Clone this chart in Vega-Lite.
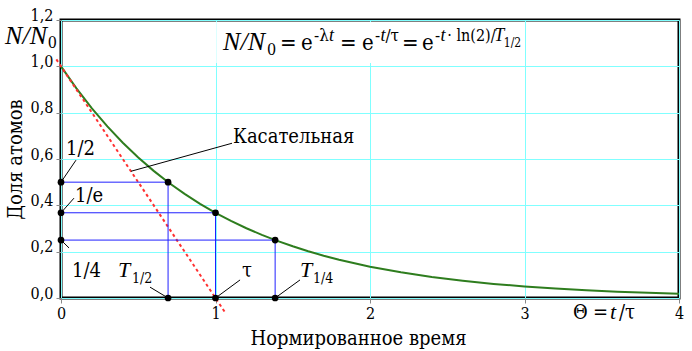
{
  "$schema": "https://vega.github.io/schema/vega-lite/v6.json",
  "width": 618,
  "height": 278,
  "autosize": {"type": "none"},
  "padding": {"left": 61, "top": 20, "right": 13, "bottom": 53},
  "background": "white",
  "config": {
    "view": {"stroke": "black", "strokeWidth": 3},
    "font": "DejaVu Serif Condensed"
  },
  "datasets": {
    "curve": [
      {"x": 0, "y": 1}, {"x": 0.1, "y": 0.9048}, {"x": 0.2, "y": 0.8187}, {"x": 0.3, "y": 0.7408},
      {"x": 0.4, "y": 0.6703}, {"x": 0.5, "y": 0.6065}, {"x": 0.6, "y": 0.5488}, {"x": 0.7, "y": 0.4966},
      {"x": 0.8, "y": 0.4493}, {"x": 0.9, "y": 0.4066}, {"x": 1.0, "y": 0.3679}, {"x": 1.1, "y": 0.3329},
      {"x": 1.2, "y": 0.3012}, {"x": 1.3, "y": 0.2725}, {"x": 1.4, "y": 0.2466}, {"x": 1.5, "y": 0.2231},
      {"x": 1.6, "y": 0.2019}, {"x": 1.7, "y": 0.1827}, {"x": 1.8, "y": 0.1653}, {"x": 1.9, "y": 0.1496},
      {"x": 2.0, "y": 0.1353}, {"x": 2.2, "y": 0.1108}, {"x": 2.4, "y": 0.0907}, {"x": 2.6, "y": 0.0743},
      {"x": 2.8, "y": 0.0608}, {"x": 3.0, "y": 0.0498}, {"x": 3.2, "y": 0.0408}, {"x": 3.4, "y": 0.0334},
      {"x": 3.6, "y": 0.0273}, {"x": 3.8, "y": 0.0224}, {"x": 4.0, "y": 0.0183}
    ],
    "tangent": [{"x": -0.03, "y": 1.03}, {"x": 1.065, "y": -0.065}],
    "guides": [
      {"x": 0, "y": 0.5, "x2": 0.693, "y2": 0.5},
      {"x": 0, "y": 0.3679, "x2": 1, "y2": 0.3679},
      {"x": 0, "y": 0.25, "x2": 1.386, "y2": 0.25},
      {"x": 0.693, "y": 0, "x2": 0.693, "y2": 0.5},
      {"x": 1, "y": 0, "x2": 1, "y2": 0.3679},
      {"x": 1.386, "y": 0, "x2": 1.386, "y2": 0.25}
    ],
    "leaders": [
      {"x": 0, "y": 0.5, "x2": 0.097, "y2": 0.595},
      {"x": 0, "y": 0.3679, "x2": 0.084, "y2": 0.431},
      {"x": 0, "y": 0.25, "x2": 0.052, "y2": 0.216},
      {"x": 0.693, "y": 0, "x2": 0.576, "y2": 0.047},
      {"x": 1, "y": 0, "x2": 1.159, "y2": 0.078},
      {"x": 1.386, "y": 0, "x2": 1.547, "y2": 0.078},
      {"x": 0.453, "y": 0.547, "x2": 1.107, "y2": 0.668}
    ],
    "dots": [
      {"x": 0, "y": 0.5}, {"x": 0, "y": 0.3679}, {"x": 0, "y": 0.25},
      {"x": 0.693, "y": 0.5}, {"x": 1, "y": 0.3679}, {"x": 1.386, "y": 0.25},
      {"x": 0.693, "y": 0}, {"x": 1, "y": 0}, {"x": 1.386, "y": 0}
    ],
    "box": [{"x": 1.005, "x2": 2.995, "y": 1.014, "y2": 1.191}],
    "labU": [
      {"x": 0.032, "y": 0.617, "t": "1/2"},
      {"x": 0.091, "y": 0.414, "t": "1/e"},
      {"x": 0.071, "y": 0.091, "t": "1/4"},
      {"x": 1.113, "y": 0.669, "t": "Касательная"},
      {"x": 1.172, "y": 0.091, "t": "τ"},
      {"x": 3.314, "y": -0.091, "t": "Θ"},
      {"x": 3.443, "y": -0.091, "t": "="},
      {"x": 3.612, "y": -0.091, "t": "/τ"}
    ],
    "labI": [
      {"x": 0.369, "y": 0.091, "t": "T"},
      {"x": 1.547, "y": 0.091, "t": "T"},
      {"x": 3.554, "y": -0.091, "t": "t"}
    ],
    "labS": [
      {"x": 0.46, "y": 0.065, "t": "1/2"},
      {"x": 1.631, "y": 0.065, "t": "1/4"}
    ],
    "fI": [
      {"x": 1.049, "y": 1.07, "t": "N/N"},
      {"x": -0.362, "y": 1.097, "t": "N/N"}
    ],
    "fS": [
      {"x": 1.333, "y": 1.049, "t": "0"},
      {"x": -0.085, "y": 1.08, "t": "0"}
    ],
    "fU": [
      {"x": 1.417, "y": 1.07, "t": "="},
      {"x": 1.553, "y": 1.07, "t": "e"},
      {"x": 1.806, "y": 1.07, "t": "="},
      {"x": 1.948, "y": 1.07, "t": "e"},
      {"x": 2.207, "y": 1.07, "t": "="},
      {"x": 2.337, "y": 1.07, "t": "e"}
    ],
    "fSU": [
      {"x": 1.638, "y": 1.109, "t": "-λ"},
      {"x": 2.032, "y": 1.109, "t": "-"},
      {"x": 2.1, "y": 1.109, "t": "/τ"},
      {"x": 2.421, "y": 1.109, "t": "-"}
    ],
    "fSU2": [
      {"x": 2.5, "y": 1.109, "t": "· ln(2)/"}
    ],
    "fSI": [
      {"x": 1.735, "y": 1.109, "t": "t"},
      {"x": 2.068, "y": 1.109, "t": "t"},
      {"x": 2.456, "y": 1.109, "t": "t"},
      {"x": 2.805, "y": 1.109, "t": "T"}
    ],
    "fSS": [
      {"x": 2.866, "y": 1.083, "t": "1/2"}
    ]
  },
  "encoding": {
    "x": {
      "field": "x", "type": "quantitative",
      "scale": {"domain": [0, 4], "nice": false, "zero": false},
      "axis": {
        "values": [0, 1, 2, 3, 4], "format": "d",
        "title": "Нормированное время", "titleX": 297, "titleY": 40,
        "titleBaseline": "middle", "titleAlign": "center", "titleFontSize": 20,
        "titleFontWeight": "normal", "titleColor": "black",
        "titleFont": "DejaVu Serif Condensed",
        "labelFont": "DejaVu Serif Condensed",
        "labelFontSize": 16, "labelColor": "black", "labelPadding": 2,
        "labelFlush": false, "tickSize": 5, "tickColor": "#888888", "domain": false,
        "grid": true, "gridColor": "#80ffff", "gridOpacity": 1
      }
    },
    "y": {
      "field": "y", "type": "quantitative",
      "scale": {"domain": [0, 1.2], "nice": false, "zero": false},
      "axis": {
        "values": [0, 0.2, 0.4, 0.6, 0.8, 1.0, 1.2],
        "labelExpr": "replace(format(datum.value, '.1f'), '.', ',')",
        "title": "Доля атомов", "titleX": -46, "titleY": 139, "titleAngle": -90,
        "titleBaseline": "middle", "titleAlign": "center", "titleFontSize": 20,
        "titleFontWeight": "normal", "titleColor": "black",
        "titleFont": "DejaVu Serif Condensed",
        "labelFont": "DejaVu Serif Condensed",
        "labelFontSize": 16, "labelColor": "black", "labelPadding": 3,
        "labelFlush": false, "labelBaseline": "middle", "labelOffset": -5,
        "tickSize": 5, "tickColor": "#888888", "domain": false,
        "grid": true, "gridColor": "#80ffff", "gridOpacity": 1
      }
    }
  },
  "layer": [
    {
      "data": {"name": "box"},
      "mark": {"type": "rect", "fill": "white", "stroke": null, "clip": false},
      "encoding": {"x2": {"field": "x2"}, "y2": {"field": "y2"}}
    },
    {
      "data": {"name": "curve"},
      "mark": {"type": "line", "color": "#2e7d1e", "strokeWidth": 2, "clip": false},
      "encoding": {}
    },
    {
      "data": {"name": "tangent"},
      "mark": {"type": "line", "color": "#ff3030", "strokeWidth": 2, "strokeDash": [3, 3], "clip": false},
      "encoding": {}
    },
    {
      "data": {"name": "guides"},
      "mark": {"type": "rule", "color": "#2020ff", "strokeWidth": 1, "clip": false},
      "encoding": {"x2": {"field": "x2"}, "y2": {"field": "y2"}}
    },
    {
      "data": {"name": "leaders"},
      "mark": {"type": "rule", "color": "black", "strokeWidth": 1, "clip": false},
      "encoding": {"x2": {"field": "x2"}, "y2": {"field": "y2"}}
    },
    {
      "data": {"name": "dots"},
      "mark": {"type": "point", "filled": true, "color": "black", "size": 45, "opacity": 1, "clip": false},
      "encoding": {}
    },
    {
      "data": {"name": "labU"},
      "mark": {"type": "text", "align": "left", "baseline": "alphabetic", "fontSize": 20, "font": "DejaVu Serif Condensed", "color": "black", "clip": false},
      "encoding": {"text": {"field": "t"}}
    },
    {
      "data": {"name": "labI"},
      "mark": {"type": "text", "align": "left", "baseline": "alphabetic", "fontSize": 22, "fontStyle": "italic", "font": "Liberation Serif", "color": "black", "clip": false},
      "encoding": {"text": {"field": "t"}}
    },
    {
      "data": {"name": "labS"},
      "mark": {"type": "text", "align": "left", "baseline": "alphabetic", "fontSize": 14, "font": "DejaVu Serif Condensed", "color": "black", "clip": false},
      "encoding": {"text": {"field": "t"}}
    },
    {
      "data": {"name": "fI"},
      "mark": {"type": "text", "align": "left", "baseline": "alphabetic", "fontSize": 26, "fontStyle": "italic", "font": "Liberation Serif", "color": "black", "clip": false},
      "encoding": {"text": {"field": "t"}}
    },
    {
      "data": {"name": "fS"},
      "mark": {"type": "text", "align": "left", "baseline": "alphabetic", "fontSize": 16, "font": "DejaVu Serif Condensed", "color": "black", "clip": false},
      "encoding": {"text": {"field": "t"}}
    },
    {
      "data": {"name": "fU"},
      "mark": {"type": "text", "align": "left", "baseline": "alphabetic", "fontSize": 22, "font": "DejaVu Serif Condensed", "color": "black", "clip": false},
      "encoding": {"text": {"field": "t"}}
    },
    {
      "data": {"name": "fSU"},
      "mark": {"type": "text", "align": "left", "baseline": "alphabetic", "fontSize": 17, "font": "DejaVu Serif Condensed", "color": "black", "clip": false},
      "encoding": {"text": {"field": "t"}}
    },
    {
      "data": {"name": "fSU2"},
      "mark": {"type": "text", "align": "left", "baseline": "alphabetic", "fontSize": 16, "font": "DejaVu Serif Condensed", "color": "black", "clip": false},
      "encoding": {"text": {"field": "t"}}
    },
    {
      "data": {"name": "fSI"},
      "mark": {"type": "text", "align": "left", "baseline": "alphabetic", "fontSize": 18, "fontStyle": "italic", "font": "Liberation Serif", "color": "black", "clip": false},
      "encoding": {"text": {"field": "t"}}
    },
    {
      "data": {"name": "fSS"},
      "mark": {"type": "text", "align": "left", "baseline": "alphabetic", "fontSize": 12, "font": "DejaVu Serif Condensed", "color": "black", "clip": false},
      "encoding": {"text": {"field": "t"}}
    }
  ]
}
